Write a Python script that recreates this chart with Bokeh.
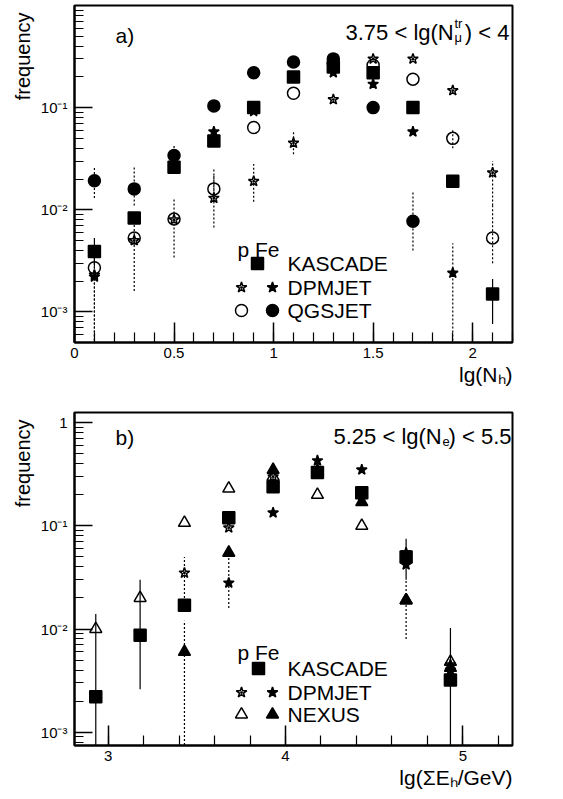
import math
from bokeh.plotting import figure
from bokeh.models import Label, FixedTicker, Title
from bokeh.layouts import column
from bokeh.embed import file_html
from bokeh.resources import INLINE

nan = float("nan")
FONT = "Liberation Sans"

# ---------------- data: panel a ----------------
x_a = [0.1, 0.3, 0.5, 0.7, 0.9, 1.1, 1.3, 1.5, 1.7, 1.9, 2.1]
kas_a = [0.0039, 0.0083, 0.026, 0.047, 0.10, 0.20, 0.25, 0.22, 0.10, 0.019, 0.0015]
p_dpm_a = [0.0023, 0.005, 0.008, 0.013, 0.019, 0.045, 0.12, 0.30, 0.30, 0.147, 0.023]
fe_dpm_a = [0.0022, 0.016, 0.028, 0.058, 0.092, 0.20, 0.22, 0.17, 0.058, 0.0024, nan]
p_qgs_a = [0.0027, 0.0053, 0.0081, 0.016, 0.064, 0.138, 0.27, 0.26, 0.19, 0.050, 0.0053]
fe_qgs_a = [0.0192, 0.016, 0.034, 0.104, 0.22, 0.28, 0.30, 0.10, 0.0077, nan, nan]

# error bars (low, high); nan = none visible
kas_a_lo = [0.0028, nan, nan, nan, nan, nan, nan, nan, nan, nan, 0.00076]
kas_a_hi = [0.0053, nan, nan, nan, nan, nan, nan, nan, nan, nan, 0.0021]
p_qgs_a_lo = [0.0004, 0.0016, 0.0034, 0.012, nan, nan, nan, nan, nan, 0.040, 0.003]
p_qgs_a_hi = [0.0034, 0.0075, 0.013, 0.022, nan, nan, nan, nan, nan, 0.060, 0.011]
p_dpm_a_lo = [0.0004, nan, nan, 0.0067, 0.012, 0.035, nan, nan, nan, nan, 0.011]
p_dpm_a_hi = [0.0030, nan, nan, 0.025, 0.028, 0.058, nan, nan, nan, nan, 0.030]
fe_dpm_a_lo = [nan, nan, nan, nan, nan, nan, nan, nan, nan, 0.0004, nan]
fe_dpm_a_hi = [nan, nan, nan, nan, nan, nan, nan, nan, nan, 0.0047, nan]
fe_qgs_a_lo = [0.013, 0.011, 0.028, nan, nan, nan, nan, nan, 0.004, nan, nan]
fe_qgs_a_hi = [0.026, 0.026, 0.043, nan, nan, nan, nan, nan, 0.015, nan, nan]

# ---------------- data: panel b ----------------
x_b = [2.93, 3.18, 3.43, 3.68, 3.93, 4.18, 4.43, 4.68, 4.93]
kas_b = [0.0022, 0.0087, 0.017, 0.12, 0.24, 0.33, 0.21, 0.050, 0.0032]
p_dpm_b = [nan, nan, 0.035, 0.096, 0.30, 0.36, 0.20, 0.055, 0.0045]
fe_dpm_b = [nan, nan, nan, 0.028, 0.134, 0.43, 0.35, 0.042, 0.0040]
p_nex_b = [0.010, 0.020, 0.107, 0.23, 0.30, 0.20, 0.10, 0.019, 0.0048]
fe_nex_b = [nan, nan, 0.006, 0.055, 0.35, 0.32, 0.17, 0.019, 0.0042]

kas_b_lo = [0.0004, 0.0026, nan, nan, nan, nan, nan, 0.030, 0.0004]
kas_b_hi = [0.014, 0.030, nan, nan, nan, nan, nan, 0.075, 0.0102]
p_dpm_b_lo = [nan, nan, 0.020, nan, nan, nan, nan, nan, nan]
p_dpm_b_hi = [nan, nan, 0.050, nan, nan, nan, nan, nan, nan]
fe_dpm_b_lo = [nan, nan, nan, 0.016, nan, nan, nan, nan, nan]
fe_dpm_b_hi = [nan, nan, nan, 0.050, nan, nan, nan, nan, nan]
fe_nex_b_lo = [nan, nan, 0.0004, nan, nan, nan, nan, 0.008, nan]
fe_nex_b_hi = [nan, nan, 0.012, nan, nan, nan, nan, 0.030, nan]

# axis settings
xr_a = (0.0, 2.2)
yr_a = (10 ** -3.3, 1.0)
xr_b = (2.81, 5.28)
yr_b = (10 ** -3.13, 10 ** 0.1)
xt_a = [0, 0.5, 1, 1.5, 2]
xt_b = [3, 4, 5]
yt_a = [1e-3, 1e-2, 1e-1]
yt_b = [1e-3, 1e-2, 1e-1, 1.0]
ylab = {1e-3: "10\u207b\u00b3", 1e-2: "10\u207b\u00b2", 1e-1: "10\u207b\u00b9", 1.0: "1"}

FL, FW, FR = 74, 438, 51  # frame left border, frame width, right border
STAR, TRI = 11, 12


def make_fig(xr, yr, top_b, fh, bot_b, xticks, xminor, ymajor, xlabel):
    p = figure(frame_width=FW, frame_height=fh, x_range=xr, y_range=yr,
               y_axis_type="log", output_backend="svg", toolbar_location=None,
               min_border_left=FL, min_border_right=FR,
               min_border_top=top_b, min_border_bottom=bot_b)
    p.background_fill_color = "white"
    p.border_fill_color = "white"
    p.grid.visible = False
    p.outline_line_color = "black"
    p.outline_line_width = 2
    p.outline_line_alpha = 1
    p.xaxis.ticker = FixedTicker(ticks=xticks, minor_ticks=xminor)
    p.xaxis.major_label_overrides = {t: ("%g" % t) for t in xticks}
    p.xaxis.major_label_text_font = FONT
    p.xaxis.major_label_text_font_size = "15px"
    p.xaxis.major_label_text_color = "black"
    p.xaxis.major_label_standoff = 5
    ymin = [k * 10.0 ** e for e in range(-4, 1) for k in range(2, 10)]
    p.yaxis.ticker = FixedTicker(ticks=ymajor, minor_ticks=ymin)
    p.yaxis.major_label_overrides = {t: ylab[t] for t in ymajor}
    p.yaxis.major_label_text_font = FONT
    p.yaxis.major_label_text_font_size = "15px"
    p.yaxis.major_label_text_color = "black"
    p.yaxis.major_label_standoff = 7
    for ax in (p.xaxis, p.yaxis):
        ax.axis_line_color = "black"
        ax.axis_line_width = 2
        ax.major_tick_line_color = "black"
        ax.minor_tick_line_color = "black"
        ax.major_tick_line_width = 1.5
        ax.minor_tick_line_width = 1.2
        ax.major_tick_out = 0
        ax.minor_tick_out = 0
    p.xaxis.major_tick_in = 20
    p.xaxis.minor_tick_in = 10
    p.yaxis.major_tick_in = 18
    p.yaxis.minor_tick_in = 9
    p.add_layout(Title(text="frequency", align="right", text_font=FONT,
                       text_font_size="20px", text_font_style="normal",
                       text_color="black", standoff=8, offset=7), "left")
    p.add_layout(Title(text=xlabel, align="right", text_font=FONT,
                       text_font_size="21px", text_font_style="normal",
                       text_color="black", standoff=0, offset=0), "below")
    return p


def clean(xs, ys):
    ox, oy = [], []
    for a, b in zip(xs, ys):
        if not (isinstance(b, float) and math.isnan(b)):
            ox.append(a)
            oy.append(b)
    return ox, oy


def errbars(p, xs, lo, hi, dash):
    x0, y0, y1 = [], [], []
    for a, l, h in zip(xs, lo, hi):
        if not (math.isnan(l) or math.isnan(h)):
            x0.append(a); y0.append(l); y1.append(h)
    if x0:
        p.segment(x0=x0, y0=y0, x1=x0, y1=y1, line_color="black",
                  line_width=1.2, line_dash=dash)


def pts(p, xs, ys, marker, filled, size):
    xx, yy = clean(xs, ys)
    p.scatter(xx, yy, marker=marker, size=size, line_color="black",
              line_width=1.5, fill_color="black" if filled else "white",
              fill_alpha=1.0 if filled else 0.0)


# Label screen coordinates are relative to the frame's bottom-left corner
def lab(p, text, px, py, fbot, size, align="left", baseline="alphabetic"):
    p.add_layout(Label(x=px - FL, y=fbot - py, x_units="screen", y_units="screen",
                       text=text, text_font=FONT, text_font_size=size,
                       text_align=align, text_baseline=baseline, text_color="black"))


def leg_xy(px, py, xr, yr, ftop, fh):
    xd = xr[0] + (px - FL) / FW * (xr[1] - xr[0])
    l0, l1 = math.log10(yr[0]), math.log10(yr[1])
    yd = 10 ** (l1 - (py - ftop) / fh * (l1 - l0))
    return xd, yd


# ================= panel a =================
FTOP_A, FH_A = 5, 337
FBOT_A = FTOP_A + FH_A
pa = make_fig(xr_a, yr_a, FTOP_A, FH_A, 53, xt_a, [i / 10 for i in range(0, 23)],
              yt_a, "lg(N\u2095)")

errbars(pa, x_a, kas_a_lo, kas_a_hi, "solid")
errbars(pa, x_a, p_qgs_a_lo, p_qgs_a_hi, "2 2")
errbars(pa, x_a, p_dpm_a_lo, p_dpm_a_hi, "2 2")
errbars(pa, x_a, fe_dpm_a_lo, fe_dpm_a_hi, "2 2")
errbars(pa, x_a, fe_qgs_a_lo, fe_qgs_a_hi, "2 2")
pts(pa, x_a, p_dpm_a, "star_dot", False, STAR)
pts(pa, x_a, fe_dpm_a, "star", True, STAR)
pts(pa, x_a, p_qgs_a, "circle", False, 12)
pts(pa, x_a, fe_qgs_a, "circle", True, 12)
pts(pa, x_a, kas_a, "square", True, 12)

lab(pa, "a)", 115, 35, FBOT_A, "21px")
lab(pa, "3.75 < lg(N", 345, 32, FBOT_A, "22px")
lab(pa, "tr", 454, 23, FBOT_A, "13px")
lab(pa, "\u03bc", 454, 37, FBOT_A, "13px")
lab(pa, ") < 4", 509, 32, FBOT_A, "22px", "right")

# legend a
lab(pa, "p Fe", 237, 249, FBOT_A, "21px")
lab(pa, "KASCADE", 287, 263, FBOT_A, "21px", "left", "middle")
lab(pa, "DPMJET", 287, 287, FBOT_A, "21px", "left", "middle")
lab(pa, "QGSJET", 287, 310, FBOT_A, "21px", "left", "middle")
for (px, py, mk, fl, sz) in [(257, 263, "square", True, 12), (241, 287, "star_dot", False, STAR),
                              (272, 287, "star", True, STAR), (241, 310, "circle", False, 12),
                              (272, 310, "circle", True, 12)]:
    xd, yd = leg_xy(px, py, xr_a, yr_a, FTOP_A, FH_A)
    pts(pa, [xd], [yd], mk, fl, sz)

# ================= panel b =================
PB_TOP = 395
FTOP_B, FH_B = 412, 333
FBOT_B = FTOP_B + FH_B
pb = make_fig(xr_b, yr_b, FTOP_B - PB_TOP, FH_B, 54, xt_b,
              [round(2.8 + 0.2 * i, 1) for i in range(13)], yt_b,
              "lg(\u03a3E\u2095/GeV)")

errbars(pb, x_b, kas_b_lo, kas_b_hi, "solid")
errbars(pb, x_b, p_dpm_b_lo, p_dpm_b_hi, "2 2")
errbars(pb, x_b, fe_dpm_b_lo, fe_dpm_b_hi, "2 2")
errbars(pb, x_b, fe_nex_b_lo, fe_nex_b_hi, "2 2")
pts(pb, x_b, p_dpm_b, "star_dot", False, STAR)
pts(pb, x_b, fe_dpm_b, "star", True, STAR)
pts(pb, x_b, p_nex_b, "triangle", False, TRI)
pts(pb, x_b, fe_nex_b, "triangle", True, TRI)
pts(pb, x_b, kas_b, "square", True, 12)

lab(pb, "b)", 115, 437, FBOT_B, "21px")
lab(pb, "5.25 < lg(N", 333, 436, FBOT_B, "22px")
lab(pb, "e", 442, 441, FBOT_B, "13px")
lab(pb, ") < 5.5", 511, 436, FBOT_B, "22px", "right")

lab(pb, "p Fe", 237, 652, FBOT_B, "21px")
lab(pb, "KASCADE", 287, 668, FBOT_B, "21px", "left", "middle")
lab(pb, "DPMJET", 287, 692, FBOT_B, "21px", "left", "middle")
lab(pb, "NEXUS", 287, 714, FBOT_B, "21px", "left", "middle")
for (px, py, mk, fl, sz) in [(258, 668, "square", True, 12), (241, 692, "star_dot", False, STAR),
                              (272, 692, "star", True, STAR), (241, 714, "triangle", False, TRI),
                              (272, 714, "triangle", True, TRI)]:
    xd, yd = leg_xy(px, py, xr_b, yr_b, FTOP_B, FH_B)
    pts(pb, [xd], [yd], mk, fl, sz)

layout = column(pa, pb, spacing=0)
open("out.html", "w").write(file_html(layout, INLINE))
